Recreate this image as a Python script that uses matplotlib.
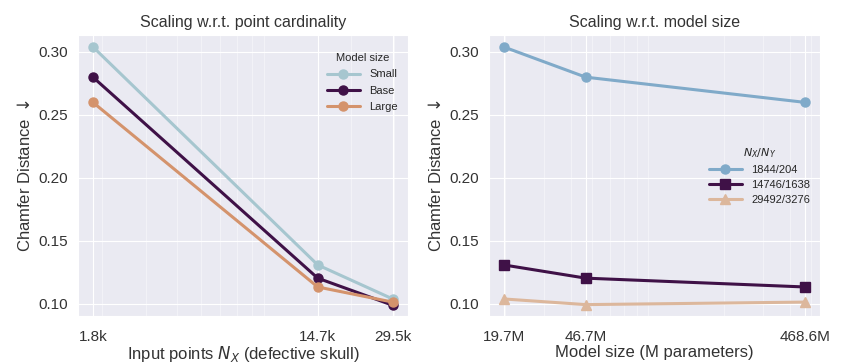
import numpy as np
import matplotlib.pyplot as plt
import seaborn as sns

sns.set_style('darkgrid')
plt.rcParams['font.family'] = ['Liberation Sans', 'DejaVu Sans']

# point cardinality (input points N_X)
n_points = [1844, 14746, 29492]
n_points_labels = ['1.8k', '14.7k', '29.5k']
cd_small = [0.304, 0.131, 0.104]
cd_base = [0.280, 0.1205, 0.099]
cd_large = [0.260, 0.1135, 0.1015]

# model size (M parameters)
model_params = [19.7, 46.7, 468.6]
model_labels = ['19.7M', '46.7M', '468.6M']
cd_1844 = [0.304, 0.280, 0.260]
cd_14746 = [0.131, 0.1205, 0.1135]
cd_29492 = [0.104, 0.0995, 0.1015]

fig = plt.figure(figsize=(8.41, 3.64), dpi=100)
ax1 = fig.add_axes([0.0927, 0.132, 0.392, 0.772])
ax2 = fig.add_axes([0.581, 0.132, 0.394, 0.772])

lw, ms = 2.2, 6.5
ax1.plot(n_points, cd_small, 'o-', color='#a6c6cf', lw=lw, ms=ms, label='Small')
ax1.plot(n_points, cd_base, 'o-', color='#3f1147', lw=lw, ms=ms, label='Base')
ax1.plot(n_points, cd_large, 'o-', color='#d4936c', lw=lw, ms=ms, label='Large')

ax2.plot(model_params, cd_1844, 'o-', color='#80aac9', lw=lw, ms=ms, label='1844/204')
ax2.plot(model_params, cd_14746, 's-', color='#3f1147', lw=lw, ms=ms, label='14746/1638')
ax2.plot(model_params, cd_29492, '^-', color='#dcb79c', lw=lw, ms=ms, label='29492/3276')

for ax, xs, labs in [(ax1, n_points, n_points_labels), (ax2, model_params, model_labels)]:
    ax.set_xscale('log')
    ax.set_xticks(xs)
    ax.set_xticklabels(labs)
    ax.xaxis.set_minor_formatter(plt.NullFormatter())
    ax.grid(True, which='minor', axis='x', color='white', lw=0.5, alpha=0.6)
    ax.set_ylim(0.0905, 0.3135)
    ax.set_yticks([0.10, 0.15, 0.20, 0.25, 0.30])
    ax.tick_params(labelsize=11, colors='#333333', which='both', length=0)
    ax.tick_params(axis='y', pad=7)
    ax.tick_params(axis='x', pad=10)
    ax.set_ylabel('Chamfer Distance $\\downarrow$', fontsize=12, color='#333333')

ax1.set_title('Scaling w.r.t. point cardinality', fontsize=11.5, color='#333333')
ax2.set_title('Scaling w.r.t. model size', fontsize=11.5, color='#333333')
ax1.set_xlabel('Input points $N_X$ (defective skull)', fontsize=12, color='#333333', labelpad=0)
ax2.set_xlabel('Model size (M parameters)', fontsize=12, color='#333333', labelpad=1)

leg1 = ax1.legend(title='Model size', loc='upper right', bbox_to_anchor=(1.0, 0.97),
                  frameon=False, fontsize=8, title_fontsize=8, handlelength=3,
                  labelspacing=0.55)
leg2 = ax2.legend(title='$N_X/N_Y$', loc='center right', bbox_to_anchor=(1.0, 0.5),
                  frameon=False, fontsize=8, title_fontsize=8, handlelength=3,
                  labelspacing=0.45)

fig.savefig('out.png', dpi=100)
